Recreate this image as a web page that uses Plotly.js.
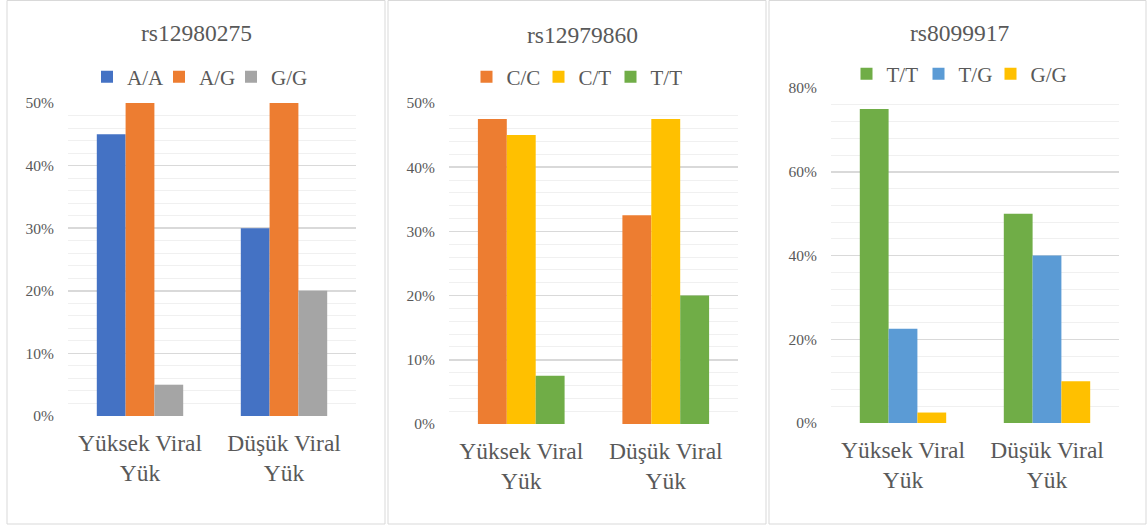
<!DOCTYPE html>
<html>
<head>
<meta charset="utf-8">
<script src="https://cdn.plot.ly/plotly-3.0.1.min.js"></script>
<style>html,body{margin:0;padding:0;background:#fff;}#chart{width:1147px;height:530px;}</style>
</head>
<body>
<div id="chart"></div>
<script>
const categories = ["Yüksek Viral<br>Yük", "Düşük Viral<br>Yük"];

const titles = ["rs12980275", "rs12979860", "rs8099917"];

const p1Names = ["A/A", "A/G", "G/G"];
const p1AA = [45, 30];
const p1AG = [50, 50];
const p1GG = [5, 20];

const p2Names = ["C/C", "C/T", "T/T"];
const p2CC = [47.5, 32.5];
const p2CT = [45, 47.5];
const p2TT = [7.5, 20];

const p3Names = ["T/T", "T/G", "G/G"];
const p3TT = [75, 50];
const p3TG = [22.5, 40];
const p3GG = [2.5, 10];

const yMax = [50, 50, 80];
const yStep = [10, 10, 20];
const yMinor = [2, 2, 4];

const W = 1147, H = 530;
const FONT = '"Liberation Serif", "Times New Roman", serif';
const TXT = '#595959';

function bar(name, y, color, ax, leg, last) {
  const t = {
    type: 'bar', name: name, x: categories, y: y,
    marker: {color: color, line: {width: 0}},
    xaxis: 'x' + ax, yaxis: 'y' + ax, legend: leg,
    hoverinfo: 'skip'
  };
  if (last) t.legendwidth = 42;
  return t;
}

const data = [
  bar(p1Names[0], p1AA, '#4472C4', '', 'legend'),
  bar(p1Names[1], p1AG, '#ED7D31', '', 'legend'),
  bar(p1Names[2], p1GG, '#A5A5A5', '', 'legend', true),
  bar(p2Names[0], p2CC, '#ED7D31', '2', 'legend2'),
  bar(p2Names[1], p2CT, '#FFC000', '2', 'legend2'),
  bar(p2Names[2], p2TT, '#70AD47', '2', 'legend2', true),
  bar(p3Names[0], p3TT, '#70AD47', '3', 'legend3'),
  bar(p3Names[1], p3TG, '#5B9BD5', '3', 'legend3'),
  bar(p3Names[2], p3GG, '#FFC000', '3', 'legend3', true)
];

// pixel geometry of the three plot areas
const plotX = [[68, 356], [449, 738], [831, 1119]];
const plotY = [[103, 416], [103, 424], [88, 423]];
const panels = [[7, 385], [388, 766], [769, 1146]];
const titlePos = [[196, 33], [583, 35], [959.5, 33]];
const legendPos = [[202.5, 77], [582, 77], [962, 74]];

function xa(i) {
  return {
    domain: [plotX[i][0] / W, plotX[i][1] / W],
    anchor: i === 0 ? 'y' : 'y' + (i + 1),
    showgrid: false, zeroline: false, showline: false, ticks: '',
    ticklabelstandoff: 10,
    tickfont: {family: FONT, size: 23.5, color: TXT},
    fixedrange: true
  };
}
function ya(i) {
  return {
    domain: [1 - plotY[i][1] / H, 1 - plotY[i][0] / H],
    anchor: i === 0 ? 'x' : 'x' + (i + 1),
    range: [0, yMax[i]], dtick: yStep[i], tick0: 0,
    ticksuffix: '%',
    showgrid: true, gridcolor: '#d9d9d9', gridwidth: 1.5,
    zeroline: false, showline: false, ticks: '',
    ticklabelstandoff: 13,
    minor: {dtick: yMinor[i], tick0: 0, showgrid: true, gridcolor: '#f0f0f0', gridwidth: 1, ticks: ''},
    tickfont: {family: FONT, size: 15.5, color: TXT},
    fixedrange: true
  };
}
function leg(i) {
  return {
    orientation: 'h', xref: 'paper', yref: 'paper',
    x: legendPos[i][0] / W, y: 1 - legendPos[i][1] / H,
    xanchor: 'center', yanchor: 'middle',
    font: {family: FONT, size: 21, color: TXT},
    bgcolor: 'rgba(0,0,0,0)', itemwidth: 30, entrywidth: 27,
    traceorder: 'normal', itemclick: false, itemdoubleclick: false
  };
}

const layout = {
  width: W, height: H,
  margin: {l: 0, r: 0, t: 0, b: 0},
  paper_bgcolor: '#ffffff', plot_bgcolor: 'rgba(0,0,0,0)',
  barmode: 'group', bargap: 0.4, bargroupgap: 0,
  showlegend: true,
  xaxis: xa(0), yaxis: ya(0),
  xaxis2: xa(1), yaxis2: ya(1),
  xaxis3: xa(2), yaxis3: ya(2),
  legend: leg(0), legend2: leg(1), legend3: leg(2),
  shapes: panels.map(p => ({
    type: 'rect', xref: 'paper', yref: 'paper',
    x0: p[0] / W, x1: p[1] / W, y0: 1 - 524 / H, y1: 1 - 0.5 / H,
    line: {color: '#d9d9d9', width: 1}, fillcolor: 'rgba(0,0,0,0)', layer: 'below'
  })),
  annotations: titles.map((t, i) => ({
    text: t, xref: 'paper', yref: 'paper',
    x: titlePos[i][0] / W, y: 1 - titlePos[i][1] / H,
    xanchor: 'center', yanchor: 'middle', showarrow: false,
    font: {family: FONT, size: 23.5, color: TXT}
  }))
};

Plotly.newPlot('chart', data, layout, {displayModeBar: false, staticPlot: true});
</script>
</body>
</html>
